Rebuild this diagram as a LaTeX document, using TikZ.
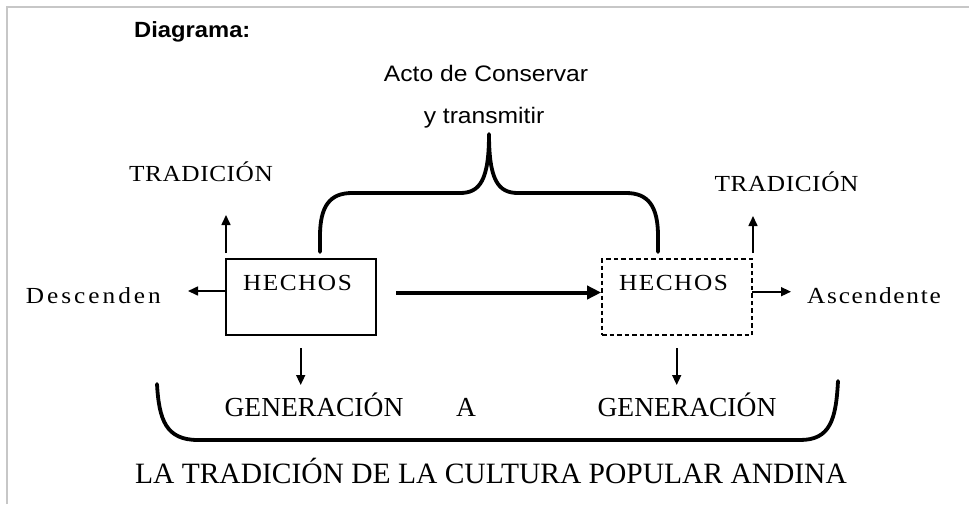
\documentclass[tikz,border=0pt]{standalone}
\usepackage{fontspec}
\setmainfont{Liberation Serif}
\newfontfamily\sansf{Liberation Sans}[FakeStretch=1.08]
\newfontfamily\sansacto{Liberation Sans}[FakeStretch=1.1]
\newfontfamily\serifA{Liberation Serif}[FakeStretch=1.1, LetterSpace=2.5]
\newfontfamily\serifH{Liberation Serif}[FakeStretch=1.1, LetterSpace=6.5]
\newfontfamily\serifD{Liberation Serif}[FakeStretch=1.1, LetterSpace=13]
\newfontfamily\serifS{Liberation Serif}[FakeStretch=1.1, LetterSpace=7.5]
\usetikzlibrary{arrows.meta}
\tikzset{
  lbl/.style={inner sep=0pt, anchor=base, text=black},
  caps/.style={lbl, font=\serifA\fontsize{23}{27}\selectfont},
  hechos/.style={lbl, font=\serifH\fontsize{23}{27}\selectfont},
  gen/.style={lbl, font=\fontsize{27.5}{32}\selectfont},
  boxst/.style={draw, line width=1.6pt, minimum width=150pt, minimum height=76pt, inner sep=0pt},
  thinarrow/.style={line width=1.6pt, -{Triangle[length=10pt,width=9pt]}},
  brace/.style={line width=3.8pt, line cap=round, line join=round},
  frame/.style={draw=black!22, line width=2pt}
}
\begin{document}
\begin{tikzpicture}[x=1pt,y=-1pt]
\useasboundingbox (0,0) rectangle (969,504);
% frame
\draw[frame] (7,504) -- (7,7) -- (969,7);
% titles
\node[lbl, anchor=base west, font=\sansf\bfseries\fontsize{22}{26}\selectfont] (diag) at (134,37) {Diagrama:};
\node[lbl, font=\sansacto\fontsize{22.4}{26}\selectfont] (acto) at (486,81) {Acto de Conservar};
\node[lbl, font=\sansacto\fontsize{22.4}{26}\selectfont] (ytr) at (484,123) {y transmitir};
% boxes
\node[boxst] (lbox) at (301,297) {};
\node[boxst, dashed, dash pattern=on 4.5pt off 3pt] (rbox) at (677,297) {};
\node[hechos] (lh) at (297.5,290.7) {HECHOS};
\node[hechos] (rh) at (673.5,290.7) {HECHOS};
% side labels
\node[caps] (ltrad) at (201,181.7) {TRADICIÓN};
\node[caps] (rtrad) at (786.5,191) {TRADICIÓN};
\node[lbl, anchor=base east, font=\serifD\fontsize{23}{27}\selectfont] (desc) at (161,303) {Descenden};
\node[lbl, anchor=base west, font=\serifS\fontsize{23}{27}\selectfont] (asc) at (807,303) {Ascendente};
% bottom labels
\node[gen] (g1) at (314,416.7) {GENERACIÓN};
\node[gen] (aa) at (466,416.7) {A};
\node[gen] (g2) at (687,416.7) {GENERACIÓN};
\node[lbl, font=\fontsize{29.5}{34}\selectfont] (title) at (491,483) {LA TRADICIÓN DE LA CULTURA POPULAR ANDINA};
% coordinates
\coordinate (lupS) at (226,253);
\coordinate (lupE) at (226,215);
\coordinate (rupS) at (753,253);
\coordinate (rupE) at (753,216);
\coordinate (ldS) at (226,291);
\coordinate (ldE) at (188,291);
\coordinate (raS) at (752,291.7);
\coordinate (raE) at (791,291.7);
\coordinate (mS) at (396,292.5);
\coordinate (ldnS) at (300.7,348);
\coordinate (ldnE) at (300.7,385);
\coordinate (rdnS) at (676.7,348);
\coordinate (rdnE) at (676.7,385);
% arrows
\draw[thinarrow] (lupS) -- (lupE);
\draw[thinarrow] (rupS) -- (rupE);
\draw[thinarrow] (ldS) -- (ldE);
\draw[thinarrow] (raS) -- (raE);
\draw[thinarrow] (ldnS) -- (ldnE);
\draw[thinarrow] (rdnS) -- (rdnE);
\draw[line width=4pt, -{Triangle[length=14pt,width=13pt]}] (mS) -- (rbox.west |- mS);
% top brace
\draw[brace] (320,252) -- (320,236) .. controls (320,206) and (330,193) .. (352,193)
  -- (460,193) .. controls (480,193) and (489,180) .. (489,134)
  .. controls (489,180) and (498,193) .. (518,193)
  -- (626,193) .. controls (648,193) and (658,206) .. (658,236) -- (658,252);
% bottom brace
\draw[brace] (157,384) .. controls (159,420) and (166,440) .. (198,440)
  -- (800,440) .. controls (830,440) and (836,420) .. (838,381);
\end{tikzpicture}
\end{document}
